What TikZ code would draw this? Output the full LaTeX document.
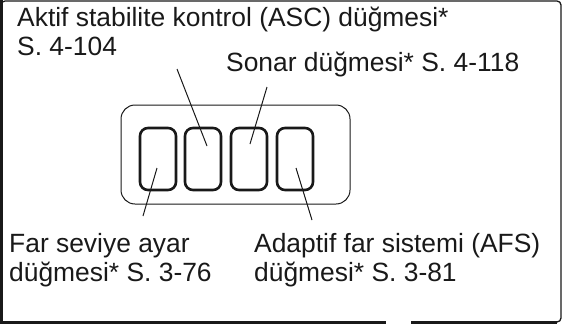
\documentclass[tikz,border=0pt]{standalone}
\usepackage{fontspec}
\setmainfont{Liberation Sans}
\begin{document}
\begin{tikzpicture}[x=1pt,y=-1pt,
  lbl/.style={anchor=base west,inner sep=0pt,font=\fontsize{26.4}{29}\selectfont,text=black!90},
  btn/.style={draw=black!90,line width=2.6pt,rounded corners=8pt},
  leader/.style={draw=black!90,line width=1pt}]
\useasboundingbox (0,0) rectangle (562,324);
% outer frame
\draw[black!90,line width=1.3pt,rounded corners=4pt] (1,323) -- (1,1) -- (561,1) -- (561,322) -- (540,322);
\draw[black!90,line width=2.4pt] (1.5,0) -- (1.5,322);
\draw[black!90,line width=3pt] (0,322.5) -- (386,322.5);
\draw[black!90,line width=3pt] (411,322.5) -- (557,322.5);
% switch panel
\draw[black!90,line width=1pt,rounded corners=14pt] (121,105) rectangle (350,204);
\draw[btn] (140,128) rectangle (176,190);
\draw[btn] (185,128) rectangle (221,190);
\draw[btn] (231,128) rectangle (267,190);
\draw[btn] (277,128) rectangle (313,190);
% labels
\node[lbl] (asc1) at (17,26) {Aktif stabilite kontrol (ASC) düğmesi*};
\node[lbl] (asc2) at (17,55) {S. 4-104};
\node[lbl] (sonar) at (226,71) {Sonar düğmesi* S. 4-118};
\node[lbl] (far1) at (9,252) {Far seviye ayar};
\node[lbl] (far2) at (9,281) {düğmesi* S. 3-76};
\node[lbl] (afs1) at (254,252) {Adaptif far sistemi (AFS)};
\node[lbl] (afs2) at (254,281) {düğmesi* S. 3-81};
% leader lines
\coordinate (ascA) at (177,69);  \coordinate (ascB) at (207,146);
\coordinate (sonA) at (267,87);  \coordinate (sonB) at (250,144);
\coordinate (farA) at (157,168); \coordinate (farB) at (143,216);
\coordinate (afsA) at (296,168); \coordinate (afsB) at (312,220);
\draw[leader] (ascA) -- (ascB);
\draw[leader] (sonA) -- (sonB);
\draw[leader] (farA) -- (farB);
\draw[leader] (afsA) -- (afsB);
\end{tikzpicture}
\end{document}
